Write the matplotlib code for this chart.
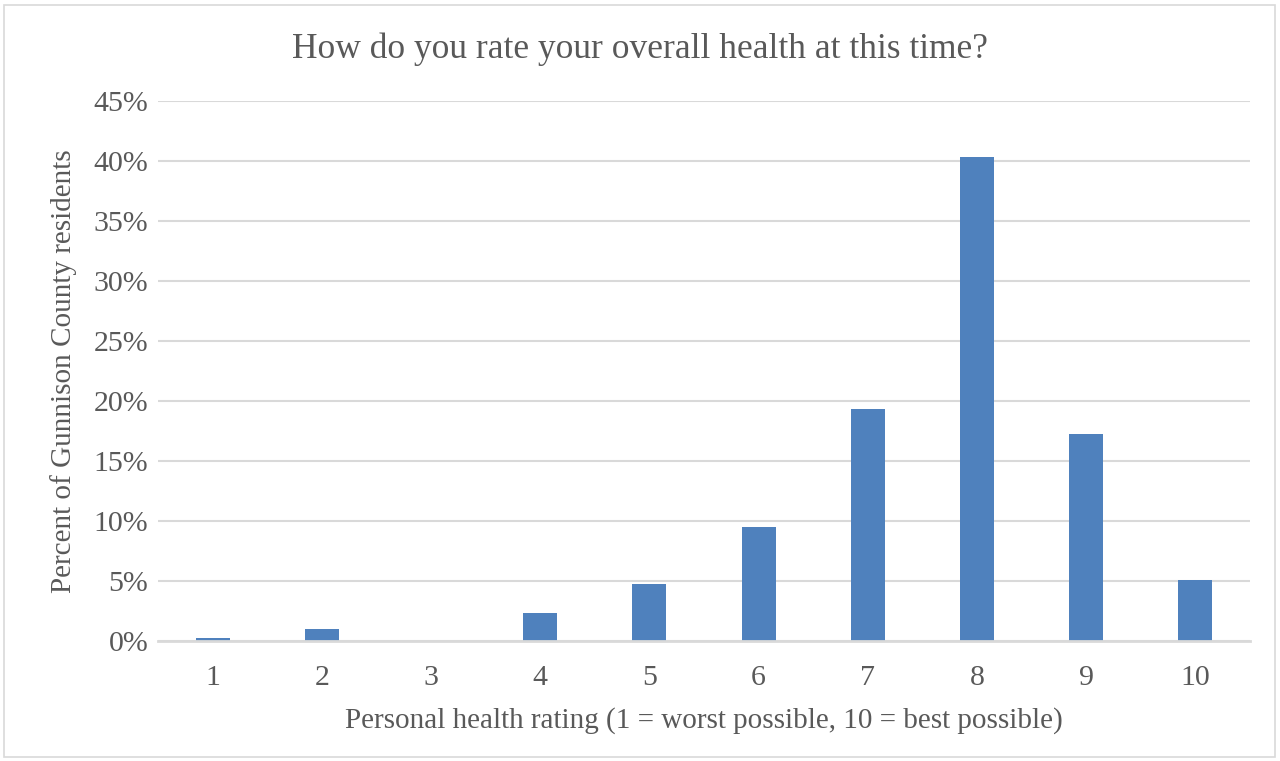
import matplotlib.pyplot as plt
from matplotlib.patches import Rectangle
from matplotlib.ticker import FuncFormatter

# survey answers, percent of residents per rating
ratings = [1, 2, 3, 4, 5, 6, 7, 8, 9, 10]
percent = [0.28, 0.97, 0.0, 2.33, 4.75, 9.47, 19.3, 40.3, 17.28, 5.08]
rating_labels = [str(r) for r in ratings]

plt.rcParams['font.family'] = ['Liberation Serif', 'DejaVu Serif']
text_color = '#595959'

fig = plt.figure(figsize=(12.8, 7.61), dpi=100)
ax = fig.add_axes([158 / 1280, 1 - 641 / 761, 1092 / 1280, 540 / 761])

ax.bar(ratings, percent, width=0.31, color='#4F81BD', zorder=3)

ax.set_xlim(0.5, 10.5)
ax.set_ylim(0, 45)
ax.set_yticks(range(0, 46, 5))
ax.yaxis.set_major_formatter(FuncFormatter(lambda v, p: '%d%%' % v))
ax.set_xticks(ratings)
ax.set_xticklabels(rating_labels)
ax.grid(axis='y', color='#D9D9D9', linewidth=1.5, zorder=0)
ax.tick_params(length=0, labelsize=21.5, colors=text_color)
ax.tick_params(axis='x', pad=17)
ax.tick_params(axis='y', pad=7)

for side in ['top', 'right', 'left']:
    ax.spines[side].set_visible(False)
ax.spines['bottom'].set_color('#D9D9D9')
ax.spines['bottom'].set_linewidth(2)
ax.spines['bottom'].set_zorder(4)

ax.set_xlabel('Personal health rating (1 = worst possible, 10 = best possible)',
              fontsize=21, color=text_color, labelpad=12)
ax.set_ylabel('Percent of Gunnison County residents', fontsize=21,
              color=text_color, labelpad=12)
fig.text(0.5, 1 - 49 / 761, 'How do you rate your overall health at this time?',
         ha='center', va='center', fontsize=25.5, color=text_color)

fig.patches.append(Rectangle((4 / 1280, 4 / 761), 1271 / 1280, 752 / 761,
                             transform=fig.transFigure, fill=False,
                             edgecolor='#D9D9D9', linewidth=1.2))

fig.savefig('out.png', dpi=100)
